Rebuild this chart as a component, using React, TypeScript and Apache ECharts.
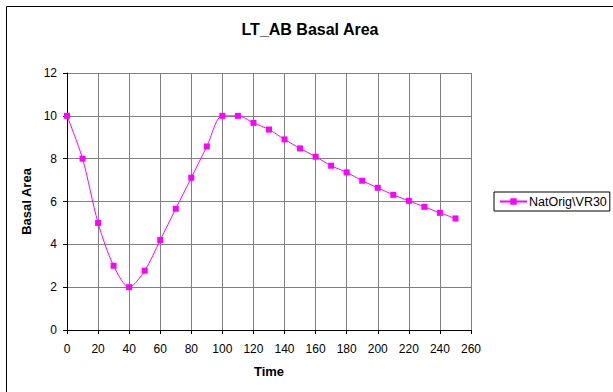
import React, { useEffect, useRef } from "react";
import * as echarts from "echarts";

const times = [0, 10, 20, 30, 40, 50, 60, 70, 80, 90, 100, 110, 120, 130, 140, 150, 160, 170, 180, 190, 200, 210, 220, 230, 240, 250];
const basalArea = [10.0, 8.0, 5.0, 3.0, 2.0, 2.77, 4.2, 5.66, 7.11, 8.57, 10.0, 10.0, 9.67, 9.36, 8.9, 8.48, 8.09, 7.67, 7.36, 6.97, 6.64, 6.31, 6.03, 5.75, 5.47, 5.21];
const seriesName = "NatOrig\\VR30";
const titleText = "LT_AB Basal Area";
const xName = "Time";
const yName = "Basal Area";

const FONT = "'Liberation Sans', Arial, sans-serif";

export default function App() {
  const ref = useRef<HTMLDivElement>(null);
  useEffect(() => {
    if (!ref.current) return;
    const chart = echarts.init(ref.current, null, { renderer: "svg" });
    chart.setOption({
      animation: false,
      backgroundColor: "#ffffff",
      textStyle: { fontFamily: FONT },
      title: {
        text: titleText,
        left: 310,
        textAlign: "center",
        top: 21,
        padding: 0,
        textStyle: { fontFamily: FONT, fontSize: 16, fontWeight: "bold", color: "#000" },
      },
      legend: {
        left: 494,
        top: 192,
        orient: "vertical",
        borderColor: "#000",
        borderWidth: 1,
        borderRadius: 0,
        padding: [3, 3, 3, 5],
        itemWidth: 27,
        itemHeight: 8,
        itemGap: 4,
        textStyle: { fontFamily: FONT, fontSize: 12.5, color: "#000", padding: [0, 0, 0, -3] },
        data: [seriesName],
      },
      grid: { left: 67, top: 73, width: 404, height: 257, containLabel: false },
      xAxis: {
        type: "value",
        min: 0,
        max: 260,
        interval: 20,
        name: xName,
        nameLocation: "middle",
        nameGap: 35,
        nameTextStyle: { fontFamily: FONT, fontSize: 13, fontWeight: "bold", color: "#000" },
        axisLine: { lineStyle: { color: "#000", width: 1 } },
        axisTick: { inside: false, length: 4, lineStyle: { color: "#000" } },
        axisLabel: { margin: 13, fontFamily: FONT, fontSize: 12, color: "#000" },
        splitLine: { show: true, lineStyle: { color: "#808080", width: 1 } },
      },
      yAxis: {
        type: "value",
        min: 0,
        max: 12,
        interval: 2,
        name: yName,
        nameLocation: "middle",
        nameGap: 34,
        nameTextStyle: { fontFamily: FONT, fontSize: 13, fontWeight: "bold", color: "#000" },
        axisLine: { show: true, lineStyle: { color: "#000", width: 1 } },
        axisTick: { show: true, inside: false, length: 4, lineStyle: { color: "#000" } },
        axisLabel: { margin: 10, fontFamily: FONT, fontSize: 12, color: "#000" },
        splitLine: { show: true, lineStyle: { color: "#808080", width: 1 } },
      },
      series: [
        {
          name: seriesName,
          type: "line",
          data: times.map((t, i) => [t, basalArea[i]]),
          smooth: 0.3,
          symbol: "rect",
          symbolSize: 6,
          showAllSymbol: true,
          itemStyle: { color: "#ff00ff" },
          lineStyle: { color: "#ff00ff", width: 1 },
        },
      ],
      graphic: [
        {
          type: "rect",
          shape: { x: 6.5, y: 6.5, width: 620, height: 400 },
          style: { fill: "none", stroke: "#000", lineWidth: 1 },
          silent: true,
        },
      ],
    });
    return () => chart.dispose();
  }, []);
  return (
    <div
      ref={ref}
      style={{ position: "fixed", left: 0, top: 0, width: 613, height: 392 }}
    />
  );
}
